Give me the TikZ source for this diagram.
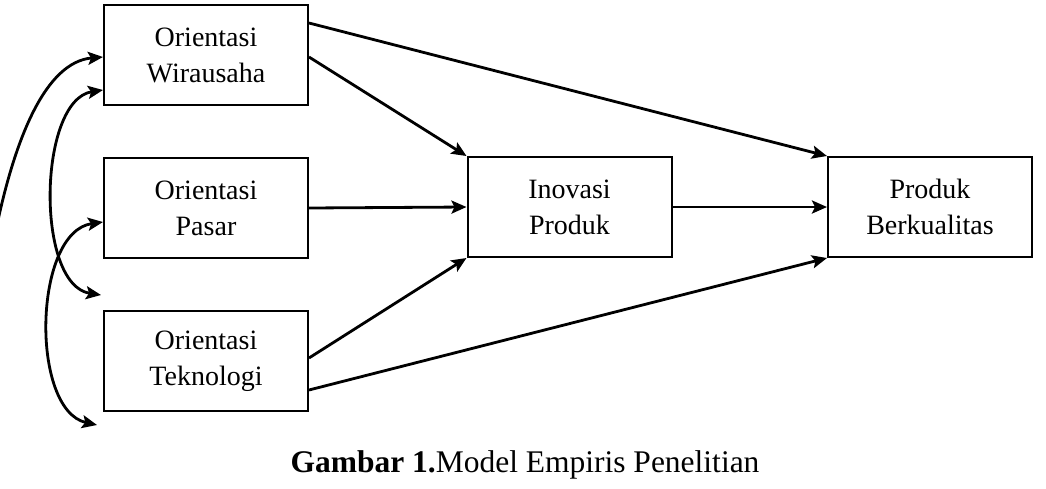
\documentclass[tikz,border=0pt]{standalone}
\usepackage{fontspec}
\setmainfont{Liberation Serif}
\usetikzlibrary{arrows.meta}
\begin{document}
\begin{tikzpicture}[x=1pt,y=-1pt,
  box/.style={draw,line width=2pt,minimum width=204pt,minimum height=100pt,align=center,inner sep=0pt,
    font=\fontsize{28}{36}\selectfont},
  tip/.tip={Stealth[length=15pt,width=13pt,inset=3pt]},
  arr/.style={line width=2.8pt,-tip},
  darr/.style={line width=2.8pt,tip-tip}]
\useasboundingbox (0,0) rectangle (1046,488);
\node[box] (W) at (206,55) {Orientasi\\Wirausaha};
\node[box] (P) at (206,208) {Orientasi\\Pasar};
\node[box] (T) at (206,361) {Orientasi\\Teknologi};
\node[box] (I) at (569.5,207) {Inovasi\\Produk};
\node[box] (B) at (930,207) {Produk\\Berkualitas};
\node[font=\fontsize{31.5}{36}\selectfont] (cap) at (525,465) {\textbf{Gambar 1.}Model Empiris Penelitian};
\coordinate (s1) at (-3,225);
\coordinate (a2) at (101,295);
\coordinate (a3) at (97,425);
\draw[arr] ([yshift=32pt]W.east) -- (B.north west);
\draw[arr] ([yshift=-2pt]W.east) -- (I.north west);
\draw[arr] (P.east) -- (I.west);
\draw[arr] ([yshift=3pt]T.east) -- (I.south west);
\draw[arr] ([yshift=-29pt]T.east) -- (B.south west);
\draw[arr] (I.east) -- (B.west);
\draw[arr] (s1) .. controls (15,140) and (45,62) .. ([yshift=-2pt]W.west);
\draw[darr] ([yshift=-35pt]W.west) .. controls (38,100) and (35,285) .. (a2);
\draw[darr] ([yshift=-14pt]P.west) .. controls (33,232) and (30,410) .. (a3);
\end{tikzpicture}
\end{document}
